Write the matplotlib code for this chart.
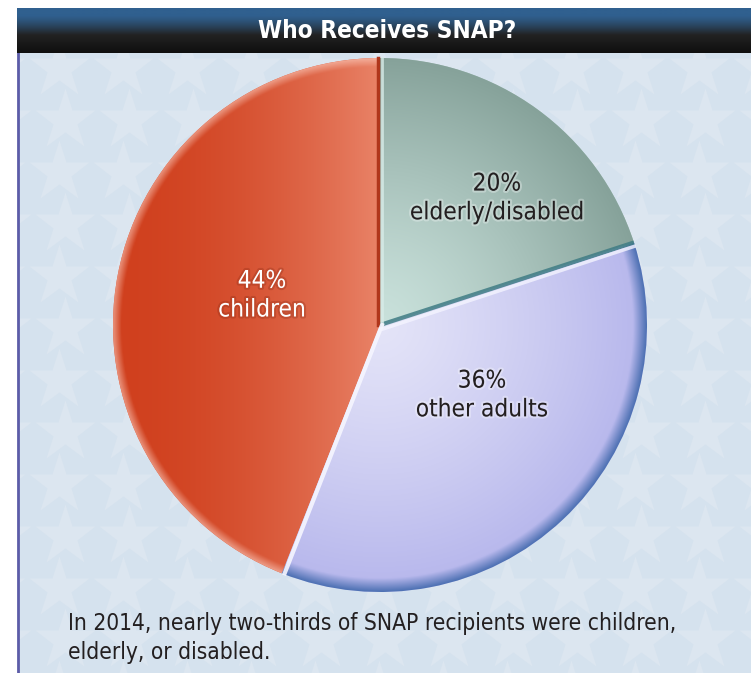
import numpy as np
import matplotlib
matplotlib.use("Agg")
import matplotlib.pyplot as plt
import matplotlib.patheffects as pe
from matplotlib.colors import to_rgb

# Data
categories = ["elderly/disabled", "other adults", "children"]
shares = [20, 36, 44]
title = "Who Receives SNAP?"
note = "In 2014, nearly two-thirds of SNAP recipients were children,\nelderly, or disabled."

W, H = 751, 673
FONT = dict(family="DejaVu Sans", fontstretch="condensed")


def py(y):
    # pixel row (from top) -> data y
    return H - y


def mix(c1, c2, t):
    c1, c2 = np.array(to_rgb(c1)), np.array(to_rgb(c2))
    t = np.clip(t, 0, 1)[..., None]
    return c1 * (1 - t) + c2 * t


fig = plt.figure(figsize=(W / 100, H / 100), dpi=100)
ax = fig.add_axes([0, 0, 1, 1])

# panel background + stars
ax.add_patch(plt.Rectangle((17, 0), W - 17, py(53), color="#d5e2ee", zorder=0))
sx, sy = np.meshgrid(np.arange(-5, W + 80, 64), np.arange(68, H + 60, 52))
sx = sx + (np.arange(sx.shape[0])[:, None] % 2) * 6
ax.plot(sx.ravel(), py(sy.ravel()), "*", ms=46, color="#dce6f0", mec="none", zorder=1)
ax.add_patch(plt.Rectangle((0, 0), 17, H, color="white", zorder=2))
ax.plot([18, 18], [0, py(53)], color="#5c5ca8", lw=2, zorder=3)

# title bar with vertical gradient
g = np.linspace(0, 1, 60)
bar = mix("#30608f", "#222222", np.clip((g - 0.15) / 0.45, 0, 1) ** 1.3)
bar = bar * (1 - 0.55 * np.clip((g - 0.6) / 0.4, 0, 1))[:, None]
ax.imshow(bar[:, None, :], extent=(17, W, py(53), py(8)), aspect="auto", zorder=3)
ax.text(387, py(31), title, color="white", fontsize=17.5, fontweight="bold",
        ha="center", va="center", zorder=4, **FONT)

# pie
cx, cy, R = 380, py(325), 267
wedges, _ = ax.pie(shares, startangle=90, counterclock=False, center=(cx, cy), radius=R,
                   colors=["#a9c4bd", "#c8c8f2", "#dc5a3a"],
                   wedgeprops=dict(linewidth=0, zorder=5), frame=True)

n = 400
xs = np.linspace(cx - R, cx + R, n)
ys = np.linspace(cy + R, cy - R, n)
XX, YY = np.meshgrid(xs, ys)
rr = np.hypot(XX - cx, YY - cy) / R

green = mix("#c9e1db", "#86a29a", rr ** 1.3)
purple = mix("#e4e4f8", "#b6b6ec", rr ** 1.2)
rim = np.clip((rr - 0.95) / 0.05, 0, 1)
purple = purple * (1 - rim[..., None]) + np.array(to_rgb("#4f72b4")) * rim[..., None]
tx = (XX - (cx - R)) / R
red = mix("#d0401e", "#e98368", tx ** 1.8)
redrim = np.clip((rr - 0.97) / 0.03, 0, 1)
red = red * (1 - 0.5 * redrim[..., None]) + np.array([1, 0.85, 0.8]) * 0.5 * redrim[..., None]

for w, img in zip(wedges, [green, purple, red]):
    im = ax.imshow(img, extent=(cx - R, cx + R, cy - R, cy + R), zorder=6, interpolation="bilinear")
    im.set_clip_path(w)

# bevel lines along wedge boundaries
bounds = 90 - 360 * np.cumsum([0] + shares[:-1]) / sum(shares)
a1 = np.deg2rad(bounds[1])
ax.plot([cx, cx + R * np.cos(a1)], [cy, cy + R * np.sin(a1)], color="#3f7c84", lw=3, zorder=7,
        solid_capstyle="butt", alpha=0.85)
ax.plot([cx + 3, cx + R * np.cos(a1)], [cy - 4, cy + R * np.sin(a1) - 4],
        color="#f4f4ff", lw=2.5, zorder=7, alpha=0.8)
ax.plot([cx - 2, cx - 2], [cy, cy + R], color="#b0361c", lw=2.5, zorder=7)
ax.plot([cx + 2, cx + 2], [cy, cy + R], color="#d8ece8", lw=2, zorder=7, alpha=0.8)
a2 = np.deg2rad(bounds[2])
ax.plot([cx + 2, cx + R * np.cos(a2) + 3], [cy, cy + R * np.sin(a2)], color="#f6f6ff", lw=3,
        zorder=7, alpha=0.9)

# labels
label_pos = [(0.438, 0.476), (0.382, -0.262), (-0.442, 0.112)]
label_col = ["#231f20", "#231f20", "white"]
for cat, s, (ux, uy), c in zip(categories, shares, label_pos, label_col):
    glow = "#8a2a14" if c == "white" else "white"
    ax.text(cx + ux * R, cy + uy * R, f"{s}%\n{cat}", color=c, fontsize=17.5,
            ha="center", va="center", linespacing=1.25, zorder=8,
            path_effects=[pe.withStroke(linewidth=3, foreground=glow, alpha=0.3)], **FONT)

ax.text(68, py(638), note, color="#231f20", fontsize=16.3, ha="left",
        va="center", linespacing=1.3, zorder=8, **FONT)

ax.set_xlim(0, W)
ax.set_ylim(0, H)
ax.set_aspect("auto")
ax.axis("off")

fig.savefig("out.png", dpi=100, facecolor="white")
